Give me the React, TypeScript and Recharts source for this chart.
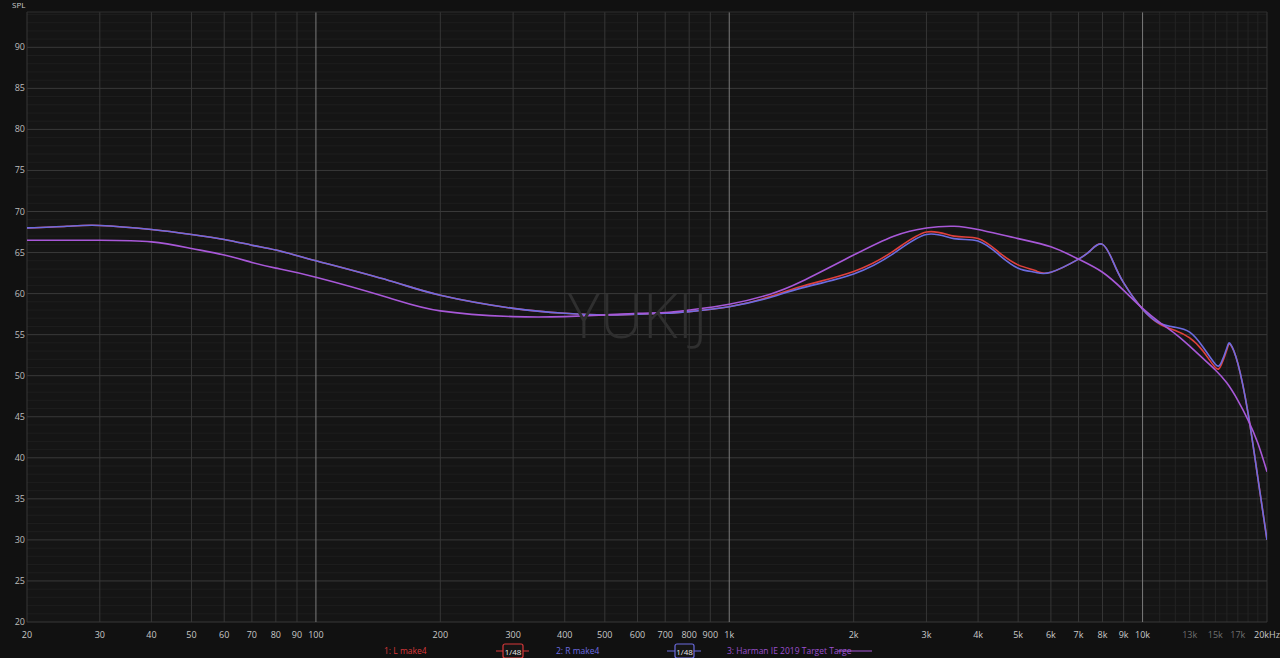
import React from 'react';
import { LineChart, Line, XAxis, YAxis, ReferenceLine, ReferenceArea } from 'recharts';

// frequency points (Hz) used for the measured L / R channels
const lrFreqs = [
  20, 25, 30, 40, 50, 60, 70, 80, 100, 150, 200, 300, 400, 500, 600, 700, 800, 1000, 1250, 1500,
  2000, 2500, 3000, 3500, 4000, 4500, 5000, 5500, 6000, 7000, 7500, 8000, 8500, 9000, 10000,
  11000, 12000, 13000, 14000, 15000, 15500, 16000, 16300, 17000, 18000, 19000, 20000,
];
const leftSpl = [
  68.0, 68.2, 68.3, 67.8, 67.2, 66.6, 65.9, 65.3, 64.0, 61.6, 59.8, 58.2, 57.6, 57.4, 57.5, 57.6, 57.8, 58.4, 59.6, 60.9,
  62.7, 65.2, 67.5, 67.0, 66.7, 65.0, 63.5, 62.8, 62.6, 64.2, 65.3, 66.0, 63.8, 61.3, 58.1,
  56.3, 55.5, 54.6, 53.0, 51.0, 51.3, 53.2, 53.8, 51.5, 45.4, 37.6, 30.0,
];
const rightSpl = [
  68.0, 68.2, 68.3, 67.8, 67.2, 66.6, 65.9, 65.3, 64.0, 61.6, 59.8, 58.2, 57.6, 57.4, 57.5, 57.6, 57.8, 58.4, 59.5, 60.7,
  62.4, 64.9, 67.2, 66.7, 66.4, 64.7, 63.1, 62.6, 62.6, 64.2, 65.3, 66.0, 63.8, 61.3, 58.1,
  56.4, 55.9, 55.3, 53.5, 51.4, 51.6, 53.4, 53.9, 51.5, 45.4, 37.6, 30.0,
];

// Harman IE 2019 target
const targetFreqs = [
  20, 30, 40, 50, 60, 70, 80, 100, 150, 200, 300, 400, 500, 600, 700, 800, 1000, 1250, 1500,
  2000, 2500, 3000, 3500, 4000, 5000, 6000, 7000, 8000, 9000, 10000, 11000, 12000, 13000, 14000,
  15000, 16000, 17000, 18000, 19000, 20000,
];
const targetSpl = [
  66.5, 66.5, 66.3, 65.5, 64.7, 63.8, 63.1, 62.0, 59.5, 57.9, 57.2, 57.2, 57.4, 57.6, 57.7, 58.0, 58.7, 59.9, 61.5,
  64.7, 67.0, 68.0, 68.2, 67.8, 66.7, 65.7, 64.2, 62.6, 60.4, 58.2, 56.5, 55.1, 53.6, 52.1,
  50.7, 49.1, 47.0, 44.6, 41.8, 38.3,
];

const xTicks = [
  20, 30, 40, 50, 60, 70, 80, 90, 100, 200, 300, 400, 500, 600, 700, 800, 900, 1000,
  2000, 3000, 4000, 5000, 6000, 7000, 8000, 9000, 10000, 13000, 15000, 17000, 20000,
];
const dimTicks = [13000, 15000, 17000];
const decadeLines = [100, 1000, 10000];
const minorFreqs = [11000, 12000, 14000, 16000, 18000, 19000];
const yTicks = [20, 25, 30, 35, 40, 45, 50, 55, 60, 65, 70, 75, 80, 85, 90];
const yMinor = Array.from({ length: 74 }, (_, i) => 21 + i).filter((v) => v % 5 !== 0);

const lData = lrFreqs.map((f, i) => ({ f, v: leftSpl[i] }));
const rData = lrFreqs.map((f, i) => ({ f, v: rightSpl[i] }));
const tData = targetFreqs.map((f, i) => ({ f, v: targetSpl[i] }));

const font = '"Open Sans", "Noto Sans", sans-serif';

const fmtFreq = (f: number) => {
  if (f === 20000) return '20kHz';
  if (f >= 1000) return `${f / 1000}k`;
  return String(f);
};

const XTick = (props: any) => {
  const { x, y, payload } = props;
  const dim = dimTicks.includes(payload.value);
  return (
    <text x={x} y={y + 8} textAnchor="middle" fontSize={9} fontFamily={font} fill={dim ? '#707070' : '#c8c8c8'}>
      {fmtFreq(payload.value)}
    </text>
  );
};

const YTick = (props: any) => {
  const { y, payload } = props;
  return (
    <text x={25} y={y + 3} textAnchor="end" fontSize={9} fontFamily={font} fill="#bdbdbd">
      {payload.value}
    </text>
  );
};

const App = () => {
  return (
    <div style={{ position: 'relative', width: 1280, height: 658, background: '#111111', overflow: 'hidden' }}>
      <style>{'body{margin:0;background:#111111;}'}</style>
      <LineChart width={1280} height={658} data={lData} margin={{ top: 12, right: 13, bottom: 16, left: 0 }}>
        <XAxis
          dataKey="f"
          type="number"
          scale="log"
          domain={[20, 20000]}
          ticks={xTicks}
          interval={0}
          allowDataOverflow
          height={20}
          tickLine={false}
          axisLine={false}
          tick={<XTick />}
        />
        <YAxis
          type="number"
          domain={[20, 94.3]}
          ticks={yTicks}
          interval={0}
          allowDataOverflow
          width={27}
          tickLine={false}
          axisLine={false}
          tick={<YTick />}
        />
        <ReferenceArea x1={20} x2={20000} y1={20} y2={94.3} fill="#151515" fillOpacity={1} stroke="none" />
        {yMinor.map((v) => (
          <ReferenceLine key={`ym${v}`} y={v} stroke="#1e1e1e" strokeWidth={1} />
        ))}
        {minorFreqs.map((f) => (
          <ReferenceLine key={`xm${f}`} x={f} stroke="#242424" strokeWidth={1} />
        ))}
        {xTicks
          .filter((f) => !decadeLines.includes(f))
          .map((f) => (
            <ReferenceLine key={`xt${f}`} x={f} stroke={dimTicks.includes(f) ? '#262626' : '#363636'} strokeWidth={1} />
          ))}
        {yTicks.map((v) => (
          <ReferenceLine key={`yt${v}`} y={v} stroke="#393939" strokeWidth={1} />
        ))}
        {decadeLines.map((f) => (
          <ReferenceLine key={`xd${f}`} x={f} stroke="#7a7a7a" strokeWidth={1} />
        ))}
        <ReferenceLine y={94.3} stroke="#2e2e2e" />
        <Line data={lData} dataKey="v" type="natural" stroke="#e0403c" strokeWidth={1.6} dot={false} isAnimationActive={false} />
        <Line data={rData} dataKey="v" type="natural" stroke="#6c6ce0" strokeWidth={1.6} dot={false} isAnimationActive={false} />
        <Line data={tData} dataKey="v" type="natural" stroke="#a858d8" strokeWidth={1.6} dot={false} isAnimationActive={false} />
      </LineChart>

      <div
        style={{
          position: 'absolute', left: 12, top: -1, fontSize: 8, color: '#cccccc', fontFamily: font,
        }}
      >
        SPL
      </div>

      <div
        style={{
          position: 'absolute', left: 568, top: 285, fontSize: 60, lineHeight: '60px', fontWeight: 300,
          color: '#2f2f2f', fontFamily: font, pointerEvents: 'none',
        }}
      >
        YUKIJ
      </div>

      <svg width={1280} height={18} style={{ position: 'absolute', left: 0, top: 642 }}>
        <g fontFamily={font} fontSize={8.5}>
          <text x={384} y={12} fill="#d8383a">1: L make4</text>
          <line x1={496} x2={529} y1={9} y2={9} stroke="#d8383a" strokeWidth={1.2} />
          <rect x={503} y={2} width={20} height={14} rx={2} fill="#151515" stroke="#d8383a" strokeWidth={1.2} />
          <text x={513} y={13} fill="#e8e8e8" textAnchor="middle" fontSize={8}>1/48</text>

          <text x={556} y={12} fill="#6c6ce0">2: R make4</text>
          <line x1={667} x2={701} y1={9} y2={9} stroke="#6c6ce0" strokeWidth={1.2} />
          <rect x={675} y={2} width={19} height={14} rx={2} fill="#151515" stroke="#6c6ce0" strokeWidth={1.2} />
          <text x={684.5} y={13} fill="#e8e8e8" textAnchor="middle" fontSize={8}>1/48</text>

          <text x={727} y={12} fill="#9b50cf">3: Harman IE 2019 Target Targe</text>
          <line x1={838} x2={872} y1={9} y2={9} stroke="#a858d8" strokeWidth={1.2} />
        </g>
      </svg>
    </div>
  );
};

export default App;
